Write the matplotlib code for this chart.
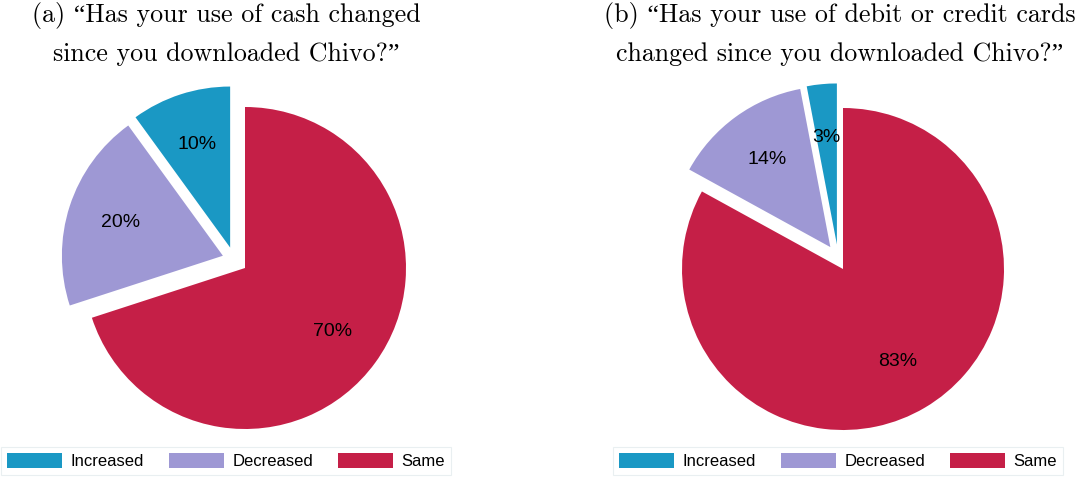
import numpy as np
import matplotlib.pyplot as plt
from matplotlib.patches import Patch

# data
labels = ['Increased', 'Decreased', 'Same']
cash = [10, 20, 70]
cards = [3, 14, 83]
colors = ['#1a98c4', '#9e98d4', '#c51f47']

# explode: distance (pie radii) and direction (deg) for each slice, per pie
explode_dist = 0.157
cash_dirs = [126, 151, None]
cards_dirs = [104, 120, None]

W, H = 1084, 478
fig = plt.figure(figsize=(W / 100, H / 100), dpi=100)

title_font = ['cmr10', 'Liberation Serif']
label_font = ['Liberation Sans', 'DejaVu Sans']


def pie_axes(cx, cy, r, half=1.5):
    # one data unit = r pixels, pie centre at pixel (cx, cy)
    side = 2 * half * r
    ax = fig.add_axes([(cx - side / 2) / W, (H - cy - side / 2) / H, side / W, side / H])
    return ax, half


def draw(ax, half, values, dirs):
    wedges, texts, autotexts = ax.pie(values, colors=colors, startangle=90,
                                      counterclock=True, autopct='%.0f%%',
                                      pctdistance=0.67, wedgeprops=dict(linewidth=0))
    for w, t, a in zip(wedges, autotexts, dirs):
        t.set_fontsize(14)
        t.set_family(label_font)
        t.set_color('black')
        if a is None:
            continue
        dx = explode_dist * np.cos(np.radians(a))
        dy = explode_dist * np.sin(np.radians(a))
        cx, cy = w.center
        w.set_center((cx + dx, cy + dy))
        tx, ty = t.get_position()
        t.set_position((tx + dx, ty + dy))
    ax.set_xlim(-half, half)
    ax.set_ylim(-half, half)
    ax.axis('off')


ax1, h1 = pie_axes(245, 268, 161)
draw(ax1, h1, cash, cash_dirs)
ax2, h2 = pie_axes(843, 269, 161)
draw(ax2, h2, cards, cards_dirs)

titles = [
    (226, ['(a) \u201cHas your use of cash changed', 'since you downloaded Chivo?\u201d']),
    (840, ['(b) \u201cHas your use of debit or credit cards', 'changed since you downloaded Chivo?\u201d']),
]
for xc, lines in titles:
    for yb, line in zip((22, 61), lines):
        fig.text(xc / W, 1 - yb / H, line, ha='center', va='baseline',
                 fontsize=18.7, family=title_font)

handles = [Patch(facecolor=c, edgecolor='none') for c in colors]
for xc in (226, 838):
    leg = fig.legend(handles, labels, loc='center', bbox_to_anchor=(xc / W, 1 - 461 / H),
                     ncol=3, prop={'family': label_font, 'size': 12},
                     frameon=True, fancybox=False, handlelength=3.3, handleheight=1.0,
                     handletextpad=0.5, columnspacing=1.5, borderpad=0.35)
    leg.get_frame().set_edgecolor('#e4ecee')
    leg.get_frame().set_linewidth(0.8)

fig.savefig('out.png', dpi=100)
